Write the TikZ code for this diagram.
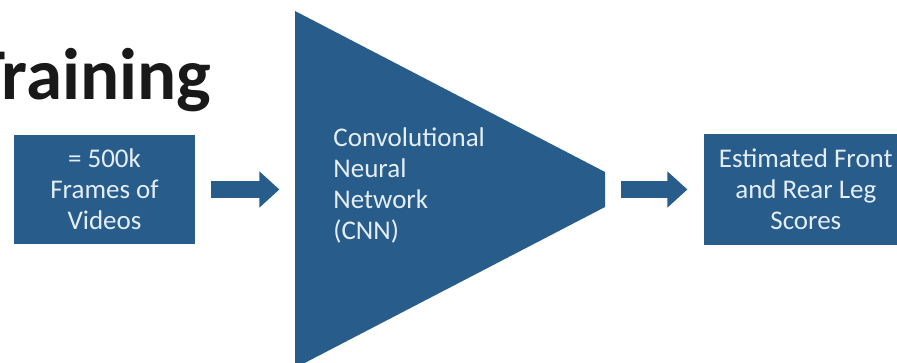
\documentclass[tikz,border=0pt]{standalone}
\usepackage{fontspec}
\setmainfont{Carlito}
\usetikzlibrary{positioning,arrows.meta}
\definecolor{cnnblue}{RGB}{40,92,138}
\definecolor{boxtext}{RGB}{228,238,247}

\begin{document}
\begin{tikzpicture}[x=0.5pt,y=0.5pt,
  block/.style={fill=cnnblue,text=boxtext,inner sep=0pt,align=center,font=\fontsize{13.5pt}{15.5pt}\selectfont},
  flow/.style={draw=cnnblue,line width=8.5pt,-{Triangle[width=17.5pt,length=10pt]},shorten <=8pt,shorten >=8pt}]
\useasboundingbox (0,0) rectangle (897,363);
\clip (0,0) rectangle (897,363);

\node[anchor=base east,font=\fontsize{36.5pt}{40pt}\selectfont\bfseries,text=black!90](title) at (218,263){Training};

\node[block,minimum width=90.5pt,minimum height=54.5pt](frames) at (104.5,173.5){= 500k\\Frames of\\Videos};
\coordinate[right=50pt of frames](cnnin);
\coordinate[right=155pt of cnnin](cnnout);

% network drawn as a cut-off triangle
\fill[cnnblue] (295,352) -- (605,191) -- (605,156) -- (295,-5) -- cycle;
\node[anchor=west,align=left,text=boxtext,inner sep=0pt,font=\fontsize{13.5pt}{15.5pt}\selectfont](cnn) at (333,177){Convolutional\\Neural\\Network\\(CNN)};

\node[block,right=49pt of cnnout,minimum width=102pt,minimum height=55.5pt](scores){Estimated Front\\and Rear Leg\\Scores};

\draw[flow] (frames.east) -- (cnnin);
\draw[flow] (cnnout) -- (scores.west);

\end{tikzpicture}
\end{document}
